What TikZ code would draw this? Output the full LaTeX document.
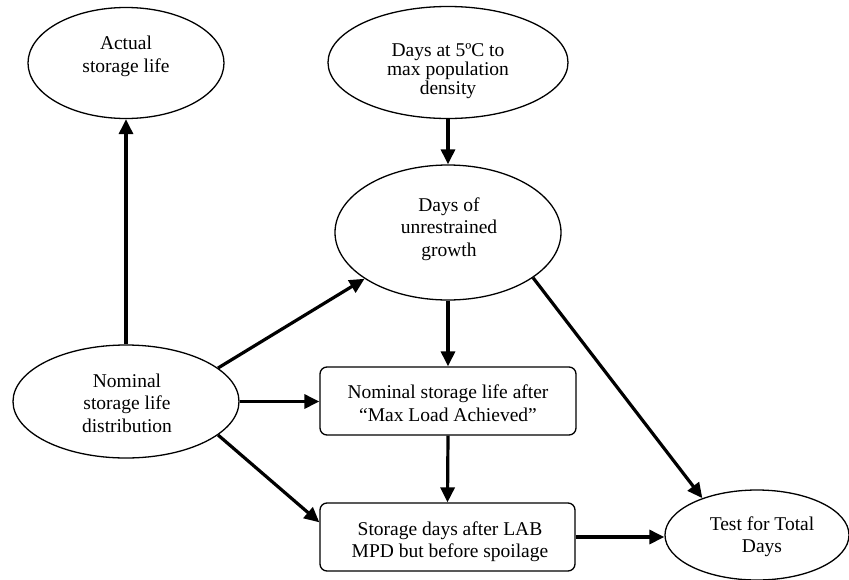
\documentclass[tikz,border=0pt]{standalone}
\usepackage{fontspec}
\setmainfont{Liberation Serif}
\usetikzlibrary{arrows.meta,shapes.geometric,calc}
\begin{document}
\begin{tikzpicture}[x=1pt,y=-1pt,
  ell/.style={draw,ellipse,line width=1.3pt,inner sep=0pt},
  rbox/.style={draw,rectangle,rounded corners=7pt,line width=1.3pt,inner sep=0pt},
  txt/.style={align=center,inner sep=0pt,anchor=base,font=\fontsize{19.5}{22.5}\selectfont},
  arr/.style={line width=3.2pt,-{Triangle[length=15pt,width=14pt]}}]
\useasboundingbox (0,0) rectangle (849,579);
\clip (0,0) rectangle (849,579);
% shapes
\node[ell,minimum width=196pt,minimum height=111pt] (act) at (126,63) {};
\node[ell,minimum width=240pt,minimum height=112pt] (d5) at (448,62.5) {};
\node[ell,minimum width=226pt,minimum height=135pt] (du) at (448,232.5) {};
\node[ell,minimum width=226pt,minimum height=113pt] (nom) at (126,401.5) {};
\node[rbox,minimum width=256pt,minimum height=68pt] (b1) at (448,401) {};
\node[rbox,minimum width=255pt,minimum height=68pt] (b2) at (447.5,537) {};
\node[ell,minimum width=184pt,minimum height=90pt] (test) at (757,535) {};
% texts (anchor = baseline of the last line)
\node[txt] (act-t) at (126,72) {Actual\\storage life};
\node[txt,font=\fontsize{19.5}{19}\selectfont] (d5-t) at (448,94.5) {Days at 5ºC to\\max population\\density};
\node[txt] (du-t) at (449,256) {Days of\\unrestrained\\growth};
\node[txt] (nom-t) at (127,432) {Nominal\\storage life\\distribution};
\node[txt,font=\fontsize{19.5}{23.5}\selectfont] (b1-t) at (448,421.5) {Nominal storage life after\\“Max Load Achieved”};
\node[txt,font=\fontsize{19.5}{22}\selectfont] (b2-t) at (450,557) {Storage days after LAB\\MPD but before spoilage};
\node[txt,font=\fontsize{19.5}{22}\selectfont] (test-t) at (762,552) {Test for Total\\Days};
% connectors
\draw[arr] (nom.north) -- (act.south);
\draw[arr] (d5.south) -- (du.north);
\draw[arr] (nom.20) -- (du.209);
\draw[arr] (nom.east) -- (nom.east -| b1.west);
\draw[arr] (nom.-20) -- ($(b2.north west)+(0,20)$);
\draw[arr] (du.south) -- (b1.north);
\draw[arr] (du.-28) -- (test.146);
\draw[arr] (b1.south) -- (b2.north);
\draw[arr] (b2.east) -- (b2.east -| test.west);
\end{tikzpicture}
\end{document}
